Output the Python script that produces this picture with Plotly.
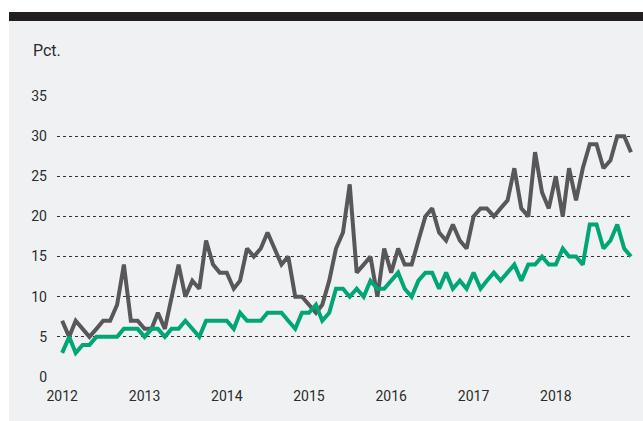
import pandas as pd
import plotly.graph_objects as go

# månedlige værdier, jan 2012 - dec 2018
maaneder = pd.date_range("2012-01-01", periods=84, freq="MS")

serie_graa = [7, 5, 7, 6, 5, 6, 7, 7, 9, 14, 7, 7,
              6, 6, 8, 6, 10, 14, 10, 12, 11, 17, 14, 13,
              13, 11, 12, 16, 15, 16, 18, 16, 14, 15, 10, 10,
              9, 8, 9, 12, 16, 18, 24, 13, 14, 15, 10, 16,
              13, 16, 14, 14, 17, 20, 21, 18, 17, 19, 17, 16,
              20, 21, 21, 20, 21, 22, 26, 21, 20, 28, 23, 21,
              25, 20, 26, 22, 26, 29, 29, 26, 27, 30, 30, 28]

serie_groen = [3, 5, 3, 4, 4, 5, 5, 5, 5, 6, 6, 6,
               5, 6, 6, 5, 6, 6, 7, 6, 5, 7, 7, 7,
               7, 6, 8, 7, 7, 7, 8, 8, 8, 7, 6, 8,
               8, 9, 7, 8, 11, 11, 10, 11, 10, 12, 11, 11,
               12, 13, 11, 10, 12, 13, 13, 11, 13, 11, 12, 11,
               13, 11, 12, 13, 12, 13, 14, 12, 14, 14, 15, 14,
               14, 16, 15, 15, 14, 19, 19, 16, 17, 19, 16, 15]

aar = ["2012", "2013", "2014", "2015", "2016", "2017", "2018"]
y_ticks = [0, 5, 10, 15, 20, 25, 30, 35]

W, H = 643, 421
ml, mr, mt, mb = 57, 10, 96, 44
pw, ph = W - ml - mr, H - mt - mb

def px_x(p):
    return (p - ml) / pw

def px_y(p):
    return (H - mb - p) / ph

bg = "#f0f1f3"
tekst = "#2b2b2b"

fig = go.Figure()
fig.add_trace(go.Scatter(x=maaneder, y=serie_graa, mode="lines",
                         line=dict(color="#58585a", width=4), showlegend=False))
fig.add_trace(go.Scatter(x=maaneder, y=serie_groen, mode="lines",
                         line=dict(color="#00a675", width=4), showlegend=False))

fig.update_layout(
    width=W, height=H,
    margin=dict(l=ml, r=mr, t=mt, b=mb),
    paper_bgcolor=bg,
    plot_bgcolor=bg,
    font=dict(family="Roboto, sans-serif", size=14, color=tekst),
    shapes=[
        # hvid kant øverst og til venstre
        dict(type="rect", xref="paper", yref="paper", layer="below",
             x0=px_x(-2), x1=px_x(W + 2), y0=px_y(12), y1=px_y(-2),
             fillcolor="white", line=dict(width=0)),
        dict(type="rect", xref="paper", yref="paper", layer="below",
             x0=px_x(-2), x1=px_x(9), y0=px_y(H + 2), y1=px_y(-2),
             fillcolor="white", line=dict(width=0)),
        # mørk bjælke i toppen
        dict(type="rect", xref="paper", yref="paper", layer="below",
             x0=px_x(9), x1=px_x(W + 2), y0=px_y(21), y1=px_y(12),
             fillcolor="#231f20", line=dict(width=0)),
    ],
    annotations=[
        dict(text="Pct.", xref="paper", yref="paper", x=px_x(31), y=px_y(51),
             xanchor="left", yanchor="middle", showarrow=False,
             font=dict(size=16, color=tekst)),
    ],
)

fig.update_xaxes(
    range=[pd.Timestamp("2011-12-09"), pd.Timestamp("2018-12-10")],
    tickvals=[pd.Timestamp(a + "-01-01") for a in aar],
    ticktext=aar,
    showgrid=False, zeroline=False, showline=False, ticks="",
    ticklabelstandoff=9,
)
fig.update_yaxes(
    range=[0, 35],
    tickvals=y_ticks,
    showgrid=True, gridcolor="#333333", griddash="dot", gridwidth=1,
    zeroline=False, showline=False, ticks="",
    ticklabelstandoff=9,
)

fig.write_html("out.html", config={"displayModeBar": False},
               post_script="document.body.style.margin='0';"
                           "document.body.style.background='#f0f1f3';")
